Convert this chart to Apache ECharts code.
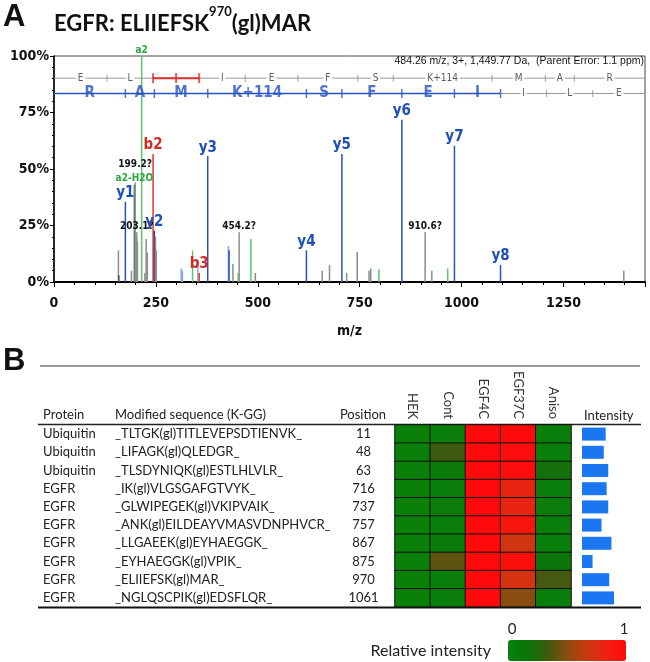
<!DOCTYPE html>
<html><head><meta charset="utf-8">
<script src="https://cdn.jsdelivr.net/npm/echarts@6/dist/echarts.min.js"></script>
<style>html,body{margin:0;padding:0;background:#fff}#c{width:650px;height:662px}</style>
</head><body><div id="c"></div>
<script>
// ---------- Panel A: MS/MS spectrum ----------
const peakMz        = [158, 159, 175.12, 190, 197.13, 199.2, 203.1, 204.6, 215.14, 223, 226, 229, 243.13, 246.16, 249, 251, 312, 315, 340, 353, 356.22, 377.2, 428, 429.5, 439, 452, 454.2, 483, 494, 619.33, 658, 676, 706.37, 718, 744, 773, 777, 797, 853.43, 910.6, 927, 966, 982.48, 1095.56, 1398];
const peakIntensity = [14, 3, 35.5, 5, 43, 44, 22, 18, 100, 4, 19, 13, 56.6, 22.7, 20, 14, 6, 5, 14, 10, 4, 55.7, 16, 14, 8, 4, 22, 19, 4, 14, 5, 7.5, 56.6, 4, 13.4, 5, 6, 5.5, 71.8, 22, 5, 6, 60.3, 7.5, 5];
const peakType      = ['o','d','y','o','aw','o','o','o','a','o','o','o','b','p','o','o','l','l','a','l','b','y','l','y','o','a','o','a','o','y','o','o','y','o','o','o','o','a','y','o','o','a','y','y','o'];
const peakLabel     = ['','','y1','','a2-H2O','199.2?','203.1?','','a2','','','','b2','y2','','','','','','','b3','y3','','','','','454.2?','','','y4','','','y5','','','','','','y6','910.6?','','','y7','y8',''];

const bIonMz   = [130.05, 243.13, 356.22, 469.30, 598.35, 745.42, 832.45, 1074.58, 1205.62, 1276.66];
const bResidues = ['E','L','I','I','E','F','S','K+114','M','A','R'];
const yIonMz   = [175.12, 246.16, 377.20, 619.33, 706.37, 853.43, 982.48, 1095.56, 1208.65, 1321.73];
const yResidues = ['R','A','M','K+114','S','F','E','I','I','L','E'];
const parentMass = 1449.77;
const xTicks = [0, 250, 500, 750, 1000, 1250];

// ---------- Panel B: table / heatmap ----------
const proteins  = ['Ubiquitin','Ubiquitin','Ubiquitin','EGFR','EGFR','EGFR','EGFR','EGFR','EGFR','EGFR'];
const sequences = ['_TLTGK(gl)TITLEVEPSDTIENVK_','_LIFAGK(gl)QLEDGR_','_TLSDYNIQK(gl)ESTLHLVLR_','_IK(gl)VLGSGAFGTVYK_','_GLWIPEGEK(gl)VKIPVAIK_','_ANK(gl)EILDEAYVMASVDNPHVCR_','_LLGAEEK(gl)EYHAEGGK_','_EYHAEGGK(gl)VPIK_','_ELIIEFSK(gl)MAR_','_NGLQSCPIK(gl)EDSFLQR_'];
const positions = [11, 48, 63, 716, 737, 757, 867, 875, 970, 1061];
const conditions = ['HEK','Cont','EGF4C','EGF37C','Aniso'];
const hek    = [0, 0, 0, 0, 0, 0, 0, 0, 0, 0];
const cont   = [0.03, 0.33, 0.1, 0.04, 0.05, 0.04, 0.06, 0.4, 0.04, 0.03];
const egf4c  = [1, 1, 1, 1, 1, 1, 1, 1, 1, 1];
const egf37c = [1, 0.98, 0.98, 0.8, 0.8, 0.92, 0.7, 0.96, 0.72, 0.5];
const aniso  = [0.03, 0.03, 0.2, 0.03, 0.05, 0.04, 0.04, 0.17, 0.35, 0.03];
const intensity = [0.74, 0.68, 0.82, 0.77, 0.82, 0.61, 0.92, 0.33, 0.85, 1.0];

const NARROW = "'Liberation Sans Narrow','DejaVu Sans Condensed',Arial,sans-serif";
const CAL = "Lato,'Open Sans',sans-serif";

const ionStyle = {
  y:  {color:'#2553c2', lc:'#1f4fb8', fs:15},
  p:  {color:'#4f3088', lc:'#1f4fb8', fs:15},
  b:  {color:'#e2332b', lc:'#d42a22', fs:15},
  a:  {color:'#5cc66c', lc:'#2aa63a', fs:10},
  aw: {color:'#3f7445', lc:'#2aa63a', fs:10},
  o:  {color:'#8c8c8c', lc:'#111111', fs:10},
  d:  {color:'#4a4a4a', lc:'#111111', fs:10},
  l:  {color:'#86a5e8', lc:'#111111', fs:10}
};

const peakData = peakMz.map((mz, i) => {
  const st = ionStyle[peakType[i]];
  const item = {value:[mz, peakIntensity[i]], itemStyle:{color:st.color}};
  if (peakLabel[i]) {
    item.label = {show:true, position:'top', formatter:peakLabel[i], color:st.lc,
      fontSize:st.fs, fontWeight:'bold', fontFamily:NARROW,
      distance: peakLabel[i] === '199.2?' ? 13 : 1};
  }
  return item;
});

const LB = 90.2, LY = 83.4;
const bBounds = [0].concat(bIonMz, [parentMass]);
const yBounds = [0].concat(yIonMz, [parentMass]);
const bLetters = bResidues.map((r, i) => ({value:[(bBounds[i]+bBounds[i+1])/2, LB], name: i === 2 ? '' : r}));
const yLetters = yResidues.map((r, i) => ({value:[(yBounds[i]+yBounds[i+1])/2, LY], name:r, blue: i < 8}));
const redMid = (bIonMz[1] + bIonMz[2]) / 2;

const heatData = [];
[hek, cont, egf4c, egf37c, aniso].forEach((arr, c) => arr.forEach((v, r) => heatData.push([c, r, v])));

const option = {
  animation:false,
  grid:[
    {left:54, top:56, width:591, height:226, show:true, borderColor:'#444', borderWidth:1, containLabel:false, outerBoundsMode:'none'},
    {left:395, top:425, width:176, height:182, containLabel:false, outerBoundsMode:'none'},
    {left:582, top:425, width:32, height:182, containLabel:false, outerBoundsMode:'none'}
  ],
  xAxis:[
    {gridIndex:0, type:'value', min:0, max:1450, interval:250,
     axisLine:{show:true, lineStyle:{color:'#000', width:2}},
     axisTick:{show:true, length:5, lineStyle:{color:'#000'}},
     minorTick:{show:true, splitNumber:5, length:3, lineStyle:{color:'#000'}},
     splitLine:{show:false},
     axisLabel:{showMaxLabel:false, fontFamily:NARROW, fontWeight:'bold', fontSize:14, color:'#111', margin:14,
       formatter: v => xTicks.indexOf(v) >= 0 ? String(v) : ''},
     name:'m/z', nameLocation:'middle', nameGap:42,
     nameTextStyle:{fontFamily:NARROW, fontWeight:'bold', fontSize:14, color:'#111'}},
    {gridIndex:1, type:'category', data:conditions, position:'top',
     axisLine:{show:false}, axisTick:{show:false},
     axisLabel:{rotate:90, fontFamily:CAL, fontSize:13, color:'#333', margin:6, padding:[12,0,0,0]}},
    {gridIndex:2, type:'value', min:0, max:1, show:false}
  ],
  yAxis:[
    {gridIndex:0, type:'value', min:0, max:100, interval:25,
     axisLine:{show:true, lineStyle:{color:'#000', width:1.5}},
     axisTick:{show:true, length:4, lineStyle:{color:'#000'}},
     minorTick:{show:true, splitNumber:5, length:2, lineStyle:{color:'#000'}},
     splitLine:{show:false},
     axisLabel:{formatter:'{value}%', fontFamily:NARROW, fontWeight:'bold', fontSize:14, color:'#111', margin:5},
     name:'Relative Intensity', nameLocation:'middle', nameGap:40, nameRotate:90,
     nameTextStyle:{fontFamily:"'Liberation Sans',Arial,sans-serif", fontWeight:'bold', fontSize:14, color:'#111'}},
    {gridIndex:1, type:'category', data:positions.map(String), inverse:true,
     axisLine:{show:false}, axisTick:{show:false},
     axisLabel:{margin:8, formatter:(v, i) => '{p|' + proteins[i] + '}{s|' + sequences[i] + '}{n|' + v + '}',
       rich:{
         p:{width:72, align:'left', fontFamily:CAL, fontSize:13, color:'#222'},
         s:{width:225, align:'left', fontFamily:CAL, fontSize:13, color:'#222'},
         n:{width:47, align:'center', fontFamily:CAL, fontSize:13, color:'#222'}
       }}},
    {gridIndex:2, type:'category', data:positions.map(String), inverse:true, show:false}
  ],
  visualMap:{type:'continuous', min:0, max:1, seriesIndex:9, orient:'horizontal', left:508, top:640, padding:0,
    itemWidth:21, itemHeight:118, calculable:false, hoverLink:false, text:null, showLabel:false,
    inRange:{color:['#0a800a','#0a760a','#3d5a10','#8a4c10','#c83a10','#f02010','#ff0a0a']}},
  series:[
    {type:'bar', xAxisIndex:0, yAxisIndex:0, barWidth:1.5, data:peakData, z:3, silent:true},
    {type:'line', xAxisIndex:0, yAxisIndex:0, data:[[0, LB],[parentMass, LB]], symbol:'none',
     lineStyle:{color:'#9a9a9a', width:1}, z:4, silent:true},
    {type:'line', xAxisIndex:0, yAxisIndex:0, data:[[bIonMz[1], LB],[bIonMz[2], LB]], symbol:'none',
     lineStyle:{color:'#d8332b', width:2}, z:5, silent:true},
    {type:'scatter', xAxisIndex:0, yAxisIndex:0, symbol:'rect', z:6, silent:true,
     data: bIonMz.map((m, i) => (i === 1 || i === 2) ? {value:[m, LB], symbolSize:[2,10], itemStyle:{color:'#d8332b'}} : {value:[m, LB], symbolSize:[1,7], itemStyle:{color:'#8a8a8a'}})
       .concat([{value:[redMid, LB], symbolSize:[2,10], itemStyle:{color:'#d8332b'}}])},
    {type:'scatter', xAxisIndex:0, yAxisIndex:0, symbolSize:1, itemStyle:{color:'rgba(0,0,0,0)'}, z:7, silent:true,
     data:bLetters.filter(d => d.name),
     label:{show:true, position:'inside', formatter:p => p.name, fontFamily:NARROW, fontSize:10, color:'#333',
       backgroundColor:'#fff', padding:[0,2]}},
    {type:'line', xAxisIndex:0, yAxisIndex:0, data:[[0, LY],[yIonMz[7], LY]], symbol:'none',
     lineStyle:{color:'#2553c2', width:1.5}, z:4, silent:true},
    {type:'line', xAxisIndex:0, yAxisIndex:0, data:[[yIonMz[7], LY],[parentMass, LY]], symbol:'none',
     lineStyle:{color:'#9a9a9a', width:1}, z:4, silent:true},
    {type:'scatter', xAxisIndex:0, yAxisIndex:0, symbol:'rect', z:6, silent:true,
     data:yIonMz.map((m, i) => i < 8 ? {value:[m, LY], symbolSize:[1.5,9], itemStyle:{color:'#2553c2'}} : {value:[m, LY], symbolSize:[1,7], itemStyle:{color:'#8a8a8a'}})},
    {type:'scatter', xAxisIndex:0, yAxisIndex:0, symbolSize:1, itemStyle:{color:'rgba(0,0,0,0)'}, z:7, silent:true,
     data:yLetters.map(d => ({value:d.value, name:d.name,
       label: d.blue ? {color:'#2553c2', fontSize:15, fontWeight:'bold', padding:[0,1]} : {color:'#333', fontSize:10, fontWeight:'normal', backgroundColor:'#fff', padding:[0,2]}})),
     label:{show:true, position:'inside', formatter:p => p.name, fontFamily:NARROW}},
    {type:'heatmap', xAxisIndex:1, yAxisIndex:1, data:heatData, silent:true,
     itemStyle:{borderColor:'#111', borderWidth:1}},
    {type:'bar', xAxisIndex:2, yAxisIndex:2, data:intensity, barWidth:13, silent:true,
     itemStyle:{color:'#1b76f2'}}
  ],
  graphic:[
    {type:'text', left:3, top:2, style:{text:'A', font:"bold 31px 'Liberation Sans',Arial", fill:'#111'}},
    {type:'text', left:54, top:5, style:{text:'{t|EGFR: ELIIEFSK}{s|970}{t|(gl)MAR}',
      rich:{t:{font:"bold 22px Lato", fill:'#111', verticalAlign:'bottom', lineHeight:30},
            s:{font:"bold 13px Lato", fill:'#111', verticalAlign:'top', lineHeight:30}}}},
    {type:'text', right:6, top:56, style:{text:'484.26 m/z, 3+, 1,449.77 Da,  (Parent Error: 1.1 ppm)',
      font:"10.5px 'Liberation Sans Narrow',Arial", fill:'#111'}},
    {type:'text', left:3, top:346, style:{text:'B', font:"bold 31px 'Liberation Sans',Arial", fill:'#111'}},
    {type:'line', shape:{x1:40, y1:366, x2:640, y2:366}, style:{stroke:'#333', lineWidth:1}},
    {type:'line', shape:{x1:38, y1:424.5, x2:641, y2:424.5}, style:{stroke:'#222', lineWidth:1.5}},
    {type:'line', shape:{x1:38, y1:607.5, x2:641, y2:607.5}, style:{stroke:'#111', lineWidth:2}, z:10},
    {type:'text', left:43, top:408, style:{text:'Protein', font:"13px Lato", fill:'#222'}},
    {type:'text', left:115, top:408, style:{text:'Modified sequence (K-GG)', font:"13px Lato", fill:'#222'}},
    {type:'text', x:363, y:408, style:{text:'Position', font:"13px Lato", fill:'#222', textAlign:'center'}},
    {type:'text', left:584, top:409, style:{text:'Intensity', font:"13px Lato", fill:'#222'}},
    {type:'text', x:491, y:651, style:{text:'Relative intensity', font:"16px Lato", fill:'#222', textAlign:'right', textVerticalAlign:'middle'}},
    {type:'text', x:512, y:629, style:{text:'0', font:"15px Lato", fill:'#222', textAlign:'center', textVerticalAlign:'middle'}},
    {type:'text', x:624, y:629, style:{text:'1', font:"15px Lato", fill:'#222', textAlign:'center', textVerticalAlign:'middle'}}
  ]
};
const chart = echarts.init(document.getElementById('c'), null, {renderer:'canvas'});
chart.setOption(option);
</script></body></html>
